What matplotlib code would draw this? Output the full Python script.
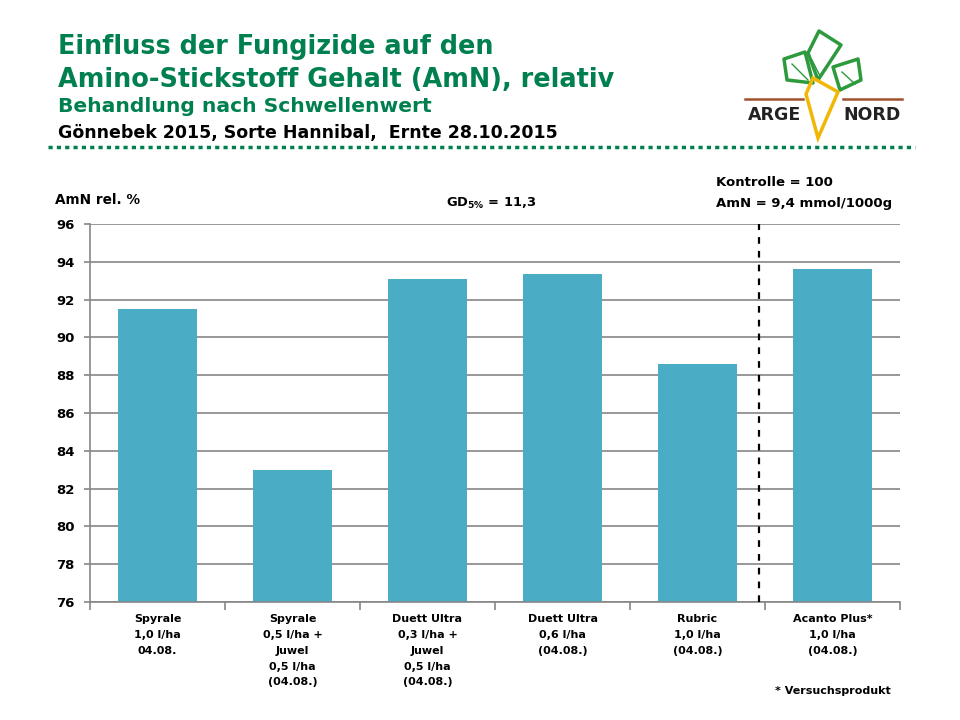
import matplotlib
matplotlib.use("Agg")
import matplotlib.pyplot as plt
from matplotlib.patches import Polygon
import numpy as np

plt.rcParams["font.family"] = ["DejaVu Sans"]
plt.rcParams["font.weight"] = "bold"
plt.rcParams["mathtext.default"] = "bf"

# data
categories = [
    "Spyrale\n1,0 l/ha\n04.08.",
    "Spyrale\n0,5 l/ha +\nJuwel\n0,5 l/ha\n(04.08.)",
    "Duett Ultra\n0,3 l/ha +\nJuwel\n0,5 l/ha\n(04.08.)",
    "Duett Ultra\n0,6 l/ha\n(04.08.)",
    "Rubric\n1,0 l/ha\n(04.08.)",
    "Acanto Plus*\n1,0 l/ha\n(04.08.)",
]
amn_rel = [91.5, 83.0, 93.1, 93.35, 88.6, 93.6]
y_ticks = [76, 78, 80, 82, 84, 86, 88, 90, 92, 94, 96]

bar_color = "#4BACC6"
green = "#00804F"
grid_grey = "#868686"

fig = plt.figure(figsize=(9.6, 7.2), dpi=100)
W, H = 960, 720


def fx(px):
    return px / W


def fy(py):
    return 1 - py / H


# main chart
ax = fig.add_axes([fx(90), fy(602), fx(900) - fx(90), fy(224) - fy(602)])
x = np.arange(len(categories))
ax.bar(x, amn_rel, width=0.585, color=bar_color, zorder=2)
ax.set_xlim(-0.5, len(categories) - 0.5)
ax.set_ylim(76, 96)
ax.set_yticks(y_ticks)
ax.set_yticklabels([str(t) for t in y_ticks], fontsize=9.5, fontweight="bold")
ax.yaxis.grid(True, color=grid_grey, linewidth=1.2, zorder=0)
ax.set_axisbelow(True)
for side in ["top", "right"]:
    ax.spines[side].set_visible(False)
for side in ["left", "bottom"]:
    ax.spines[side].set_color(grid_grey)
    ax.spines[side].set_linewidth(1.2)
ax.tick_params(axis="y", length=4, width=1.2, color=grid_grey, pad=7)
ax.set_xticks(np.arange(-0.5, len(categories)), minor=False)
ax.set_xticklabels([])
ax.tick_params(axis="x", length=6, width=1.2, color=grid_grey)
for i, lab in enumerate(categories):
    ax.text(i, 75.35, lab, ha="center", va="top", fontsize=8,
            fontweight="bold", linespacing=1.72)

# separator for control reference
ax.plot([4.455, 4.455], [76, 96], color="black", linestyle=(0, (3, 3.2)),
        linewidth=1.6, clip_on=False, zorder=3)

# annotations
fig.text(fx(55), fy(200), "AmN rel. %", fontsize=9.8, fontweight="bold", va="center")
fig.text(fx(446), fy(203), r"GD$_{\mathregular{5\%}}$ = 11,3", fontsize=9.4,
         fontweight="bold", va="center")
fig.text(fx(716), fy(183), "Kontrolle = 100", fontsize=9.5, fontweight="bold", va="center")
fig.text(fx(716), fy(203), "AmN = 9,4 mmol/1000g", fontsize=9.5, fontweight="bold", va="center")
fig.text(fx(775), fy(691), "* Versuchsprodukt", fontsize=8, fontweight="bold", va="center")

# header
fig.text(fx(58), fy(47), "Einfluss der Fungizide auf den", color=green,
         fontsize=18.4, fontweight="bold", va="center")
fig.text(fx(58), fy(80), "Amino-Stickstoff Gehalt (AmN), relativ", color=green,
         fontsize=18.4, fontweight="bold", va="center")
fig.text(fx(58), fy(107), "Behandlung nach Schwellenwert", color=green,
         fontsize=14.6, fontweight="bold", va="center")
fig.text(fx(58), fy(133), "Gönnebek 2015, Sorte Hannibal,  Ernte 28.10.2015",
         color="black", fontsize=12.5, fontweight="bold", va="center")

# overlay for decorations in pixel coordinates
deco = fig.add_axes([0, 0, 1, 1], zorder=5)
deco.set_xlim(0, W)
deco.set_ylim(H, 0)
deco.axis("off")
deco.plot([48, 915], [147, 147], color=green, linestyle=(0, (1.2, 1.2)), linewidth=2.5)

# logo
leaf = dict(fill=False, edgecolor="#2E9A3E", linewidth=2.5, joinstyle="round")
deco.add_patch(Polygon([(808, 53), (819, 31), (841, 45), (818, 80)], **leaf))
deco.add_patch(Polygon([(784, 59), (805, 52), (813, 83), (787, 80)], **leaf))
deco.add_patch(Polygon([(833, 67), (858, 59), (861, 80), (840, 90)], **leaf))
deco.plot([812, 820], [60, 76], color="#2E9A3E", linewidth=1)
deco.plot([792, 808], [64, 80], color="#2E9A3E", linewidth=1)
deco.plot([842, 855], [72, 84], color="#2E9A3E", linewidth=1)
deco.add_patch(Polygon([(813, 78), (838, 92), (818, 138), (806, 94)],
                       fill=False, edgecolor="#F2B705", linewidth=2.5))
deco.plot([745, 803], [99, 99], color="#A0522D", linewidth=1.8)
deco.plot([843, 902], [99, 99], color="#A0522D", linewidth=1.8)
deco.text(775, 115, "ARGE", ha="center", va="center", fontsize=12.5,
          fontweight="bold", color="#222222")
deco.text(872, 115, "NORD", ha="center", va="center", fontsize=12.5,
          fontweight="bold", color="#222222")

fig.savefig("out.png", dpi=100)
